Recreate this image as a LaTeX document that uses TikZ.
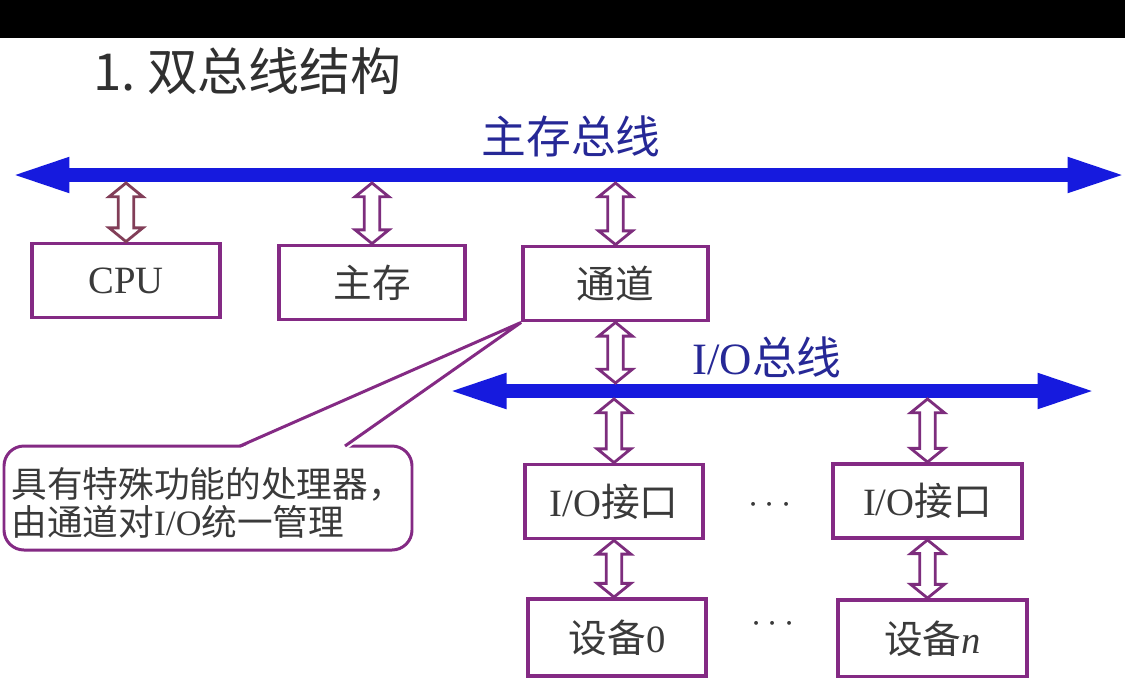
\documentclass[tikz,border=0pt]{standalone}
\usepackage{fontspec}
\setmainfont{Liberation Serif}
\newfontfamily\cjk{Noto Sans CJK SC}
\usetikzlibrary{arrows.meta,calc}
\definecolor{boxpurple}{RGB}{132,42,132}
\definecolor{arrpurple}{RGB}{125,45,125}
\definecolor{arrmaroon}{RGB}{130,62,88}
\definecolor{busblue}{RGB}{22,26,222}
\definecolor{lblblue}{RGB}{38,40,150}
\definecolor{txtgrey}{RGB}{58,58,58}
\definecolor{titlegrey}{RGB}{48,48,48}
\newcommand\hollowdbl[3][arrpurple]{%
  \filldraw[harrow,draw=#1] let \p1=(#2), \p2=(#3) in
    (\x1,\y1) -- (\x1+9.6pt,\y1-7.8pt) -- (\x1+4.4pt,\y1-7.8pt)
    -- (\x1+4.4pt,\y2+7.8pt) -- (\x1+9.6pt,\y2+7.8pt) -- (\x1,\y2)
    -- (\x1-9.6pt,\y2+7.8pt) -- (\x1-4.4pt,\y2+7.8pt)
    -- (\x1-4.4pt,\y1-7.8pt) -- (\x1-9.6pt,\y1-7.8pt) -- cycle;}
\tikzset{
  boxnode/.style={draw=boxpurple, line width=2.2pt, fill=white, inner sep=0pt,
    minimum height=1.48cm, text=txtgrey, font=\fontsize{22}{24}\selectfont},
  harrow/.style={fill=white, line width=1.6pt, line join=miter},
  bus/.style={draw=busblue, line width=8.5pt,
    {Triangle[length=35pt,width=17.6pt]}-{Triangle[length=35pt,width=17.6pt]}},
  calloutbox/.style={draw=boxpurple, line width=1.7pt, fill=white, rounded corners=0.4cm},
  calloutline/.style={draw=boxpurple, line width=1.7pt, line join=miter},
  buslabel/.style={text=lblblue, font=\fontsize{25.5}{28}\selectfont, inner sep=0pt},
}
\begin{document}
\begin{tikzpicture}[x=0.02cm, y=-0.02cm]
  % canvas
  \fill[white] (0,0) rectangle (1125,677);
  \useasboundingbox (0,0) rectangle (1125,677);
  \fill[black] (0,0) rectangle (1125,38);

  % title
  \node[anchor=west, inner sep=0pt, text=titlegrey, font=\cjk\fontsize{29}{32}\selectfont]
    (title) at (93,71) {1.\hspace{0.22em}双总线结构};

  % buses
  \coordinate (mbL) at (8,175);
  \coordinate (mbR) at (1129,175);
  \coordinate (mbBot) at (0,183);
  \coordinate (iobL) at (445,391);
  \coordinate (iobR) at (1099,391);
  \coordinate (iobTop) at (0,383);
  \coordinate (iobBot) at (0,399);
  \draw[bus] (mbL) -- (mbR);
  \draw[bus] (iobL) -- (iobR);
  \node[buslabel] (mblabel) at (571,136) {\cjk 主存总线};
  \node[buslabel] (ioblabel) at (767,357) {I/O{\cjk 总线}};

  % boxes
  \node[boxnode, minimum width=3.76cm] (cpu) at (126,280.5) {CPU};
  \node[boxnode, minimum width=3.72cm] (mem) at (372,282.5) {\cjk 主存};
  \node[boxnode, minimum width=3.7cm] (tongdao) at (615.5,283.5) {\cjk 通道};
  \node[boxnode, minimum width=3.56cm] (io1) at (614,501.5) {I/O{\cjk 接口}};
  \node[boxnode, minimum width=3.78cm] (io2) at (927.5,501) {I/O{\cjk 接口}};
  \node[boxnode, minimum width=3.56cm, minimum height=1.54cm] (dev0) at (617,637.5) {{\cjk 设备}0};
  \node[boxnode, minimum width=3.78cm, minimum height=1.54cm] (devn) at (932.5,638.5) {{\cjk 设备}\textit{n}};
  \node[text=txtgrey, font=\fontsize{22}{24}\selectfont] (dots1) at (770,505) {$\cdots$};
  \node[text=txtgrey, font=\fontsize{22}{24}\selectfont] (dots2) at (773,624) {$\cdots$};

  % hollow double arrows
  \hollowdbl[arrmaroon]{cpu.north |- mbBot}{cpu.north}
  \hollowdbl{mem.north |- mbBot}{mem.north}
  \hollowdbl{tongdao.north |- mbBot}{tongdao.north}
  \hollowdbl{tongdao.south}{tongdao.south |- iobTop}
  \hollowdbl{io1.north |- iobBot}{io1.north}
  \hollowdbl{io2.north |- iobBot}{io2.north}
  \hollowdbl{io1.south}{dev0.north}
  \hollowdbl{io2.south}{devn.north}

  % callout
  \filldraw[calloutbox] (4,446) rectangle (412,550);
  \fill[white] (tongdao.south west) -- (238,449) -- (347,449) -- cycle;
  \draw[calloutline] (240,446) -- (tongdao.south west) -- (345,446);
  \node[anchor=west, align=left, inner sep=0pt, text=txtgrey,
        font=\fontsize{20.3}{21.5}\selectfont] (note) at (11,503)
    {{\cjk 具有特殊功能的处理器，}\\{\cjk 由通道对}I/O{\cjk 统一管理}};
\end{tikzpicture}
\end{document}
